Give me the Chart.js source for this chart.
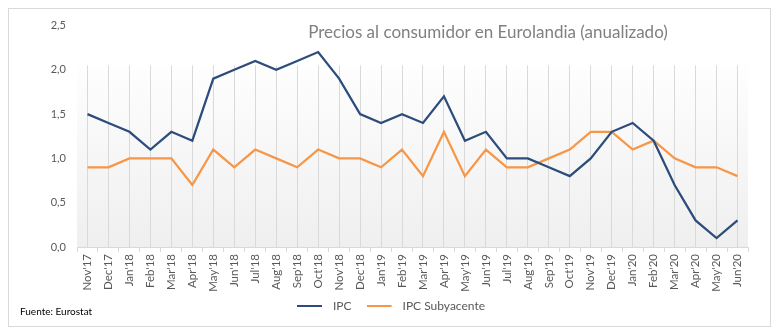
<!DOCTYPE html>
<html>
<head>
<meta charset="utf-8">
<script src="https://cdn.jsdelivr.net/npm/chart.js@4/dist/chart.umd.min.js"></script>
<style>
html,body{margin:0;padding:0;background:#fff;}
#wrap{position:relative;width:782px;height:336px;overflow:hidden;}
#frame{position:absolute;left:8px;top:8px;border:1px solid #d9d9d9;box-sizing:border-box;width:763px;height:319px;}
#c{position:absolute;left:0;top:0;}
#title{position:absolute;left:0;top:21px;width:782px;padding-left:194px;box-sizing:border-box;text-align:center;font-family:Lato,"Open Sans",sans-serif;font-size:17px;color:#808080;white-space:nowrap;}
#src{position:absolute;left:20px;top:305px;font-family:Lato,"Open Sans",sans-serif;font-size:10px;color:#000;}
</style>
</head>
<body>
<div id="wrap">
<div id="frame"></div>
<canvas id="c" width="782" height="336"></canvas>
<div id="title">Precios al consumidor en Eurolandia (anualizado)</div>
<div id="src">Fuente: Eurostat</div>
</div>
<script>
const categories = ["Nov'17","Dec'17","Jan'18","Feb'18","Mar'18","Apr'18","May'18","Jun'18","Jul'18","Aug'18","Sep'18","Oct'18","Nov'18","Dec'18","Jan'19","Feb'19","Mar'19","Apr'19","May'19","Jun'19","Jul'19","Aug'19","Sep'19","Oct'19","Nov'19","Dec'19","Jan'20","Feb'20","Mar'20","Apr'20","May'20","Jun'20"];
const ipc = [1.5,1.4,1.3,1.1,1.3,1.2,1.9,2.0,2.1,2.0,2.1,2.2,1.9,1.5,1.4,1.5,1.4,1.7,1.2,1.3,1.0,1.0,0.9,0.8,1.0,1.3,1.4,1.2,0.7,0.3,0.1,0.3];
const ipcSub = [0.9,0.9,1.0,1.0,1.0,0.7,1.1,0.9,1.1,1.0,0.9,1.1,1.0,1.0,0.9,1.1,0.8,1.3,0.8,1.1,0.9,0.9,1.0,1.1,1.3,1.3,1.1,1.2,1.0,0.9,0.9,0.8];
const yTicks = [0,0.5,1.0,1.5,2.0,2.5];
const seriesNames = ["IPC","IPC Subyacente"];
const seriesColors = ["#2c4d7c","#f79646"];
const plotTopValue = 2.05;

const FONT = "Lato, 'Open Sans', sans-serif";
const grey = "#595959";

function legendLine(color){
  const cv = document.createElement('canvas');
  cv.width = 30; cv.height = 4;
  const c = cv.getContext('2d');
  c.fillStyle = color;
  c.fillRect(0, 1, 25, 2);
  return cv;
}
const legendImgs = seriesColors.map(legendLine);

const bgPlugin = {
  id:'bgPlugin',
  afterLayout(chart){
    const lg = chart.legend;
    if (lg && !lg._shifted){
      lg.top -= 10; lg.bottom -= 10; lg._shifted = true;
    }
  },
  beforeDraw(chart){
    const {ctx, chartArea:a, scales:{y}} = chart;
    const top = y.getPixelForValue(plotTopValue);
    const g = ctx.createLinearGradient(0, top, 0, a.bottom);
    g.addColorStop(0, '#fefefe');
    g.addColorStop(1, '#efefef');
    ctx.save();
    ctx.fillStyle = g;
    ctx.fillRect(a.left, top, a.right - a.left, a.bottom - top);
    ctx.restore();
  },
  beforeDatasetsDraw(chart){
    const {ctx, chartArea:a, scales:{y}} = chart;
    const top = y.getPixelForValue(plotTopValue);
    ctx.save();
    ctx.fillStyle = '#ffffff';
    ctx.fillRect(a.left - 1, a.top - 2, a.right - a.left + 2, top - a.top + 2);
    ctx.restore();
  }
};

new Chart(document.getElementById('c'), {
  type:'line',
  data:{
    labels:categories,
    datasets:[
      {label:seriesNames[0], data:ipc, borderColor:seriesColors[0], backgroundColor:seriesColors[0], borderWidth:2.25, pointRadius:0, tension:0, xAxisID:'x'},
      {label:seriesNames[1], data:ipcSub, borderColor:seriesColors[1], backgroundColor:seriesColors[1], borderWidth:2.25, pointRadius:0, tension:0, xAxisID:'x'}
    ]
  },
  options:{
    responsive:false,
    animation:false,
    layout:{padding:{left:34,right:34,top:25.5,bottom:4}},
    plugins:{
      legend:{
        position:'bottom',
        labels:{
          usePointStyle:true, pointStyleWidth:30, boxHeight:4, padding:15,
          color:grey, font:{family:FONT,size:12},
          generateLabels(chart){
            const items = Chart.defaults.plugins.legend.labels.generateLabels(chart);
            items.forEach((it)=>{ it.pointStyle = legendImgs[it.datasetIndex]; });
            return items;
          }
        }
      },
      tooltip:{enabled:false},
      title:{display:false}
    },
    scales:{
      x:{
        type:'category',
        offset:true,
        grid:{offset:true, drawOnChartArea:false, drawTicks:true, tickLength:5, color:'#d9d9d9'},
        border:{display:true, color:'#d9d9d9', width:1},
        ticks:{color:grey, font:{family:FONT,size:11.5}, minRotation:90, maxRotation:90, autoSkip:false, padding:2},
        afterFit(s){ s.height = 48; }
      },
      x2:{
        type:'category',
        position:'top',
        labels:categories,
        offset:true,
        grid:{offset:false, drawTicks:false, color:'#d9d9d9'},
        border:{display:false},
        ticks:{display:false},
        afterFit(s){ s.height = 0; }
      },
      y:{
        min:0, max:2.5,
        afterBuildTicks(s){ s.ticks = yTicks.map(v=>({value:v})); },
        grid:{display:false, drawTicks:false},
        border:{display:false},
        ticks:{color:grey, font:{family:FONT,size:11}, padding:11,
          callback:(v)=>Number(v).toFixed(1).replace('.',',')},
        afterFit(s){ s.width = 43; }
      }
    }
  },
  plugins:[bgPlugin]
});
</script>
</body>
</html>
